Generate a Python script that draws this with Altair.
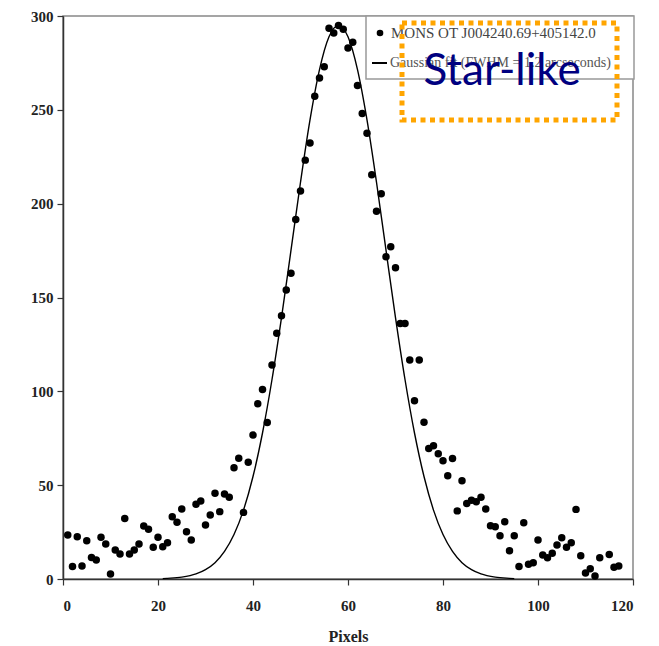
import altair as alt
import pandas as pd

# Measured profile (pixel index, counts)
pts_x = list(range(1, 114)) + [115, 116, 117]
pts_y = [23.4, 6.6, 22.5, 6.9, 20.4, 11.4, 10.1, 22.2, 18.6, 2.7,
         15.5, 13.3, 32.3, 13.3, 15.5, 18.6, 28.2, 26.5, 16.9, 22.2,
         17.2, 19.3, 33.2, 30.2, 37.3, 25.2, 20.8, 39.8, 41.6, 28.8,
         34.1, 45.7, 35.9, 45.3, 43.5, 59.3, 64.3, 35.5, 62.2, 76.7,
         93.4, 101.0, 83.4, 114.0, 131.0, 140.3, 154.0, 162.9, 191.6, 206.7,
         223.2, 232.3, 257.2, 267.0, 272.9, 293.5, 291.0, 295.0, 293.0, 283.0,
         286.0, 263.0, 248.0, 237.5, 215.4, 196.0, 205.3, 171.7, 177.1, 165.9,
         136.2, 136.2, 116.7, 95.0, 116.7, 83.5, 69.6, 71.0, 66.8, 63.0,
         55.0, 64.2, 36.3, 52.4, 40.2, 42.0, 41.2, 43.5, 37.3, 28.4,
         27.9, 23.1, 30.5, 15.1, 23.1, 6.6, 30.0, 7.8, 8.7, 20.8,
         12.8, 11.3, 13.7, 18.1, 22.0, 16.9, 19.3, 37.1, 12.4, 3.2,
         5.5, 1.6, 11.3, 13.0, 6.2, 6.9]

# Gaussian fit curve
fit_x = [21, 22, 25, 28, 30, 32, 34, 36, 38, 40, 42, 44, 46, 48, 50, 52, 54, 56, 58,
         60, 62, 64, 66, 68, 70, 72, 74, 76, 78, 80, 82, 84, 86, 88, 91, 94, 95]
fit_y = [0.2, 0.35, 1.0, 2.7, 5.0, 8.7, 14.7, 23.7, 36.7, 54.6, 77.8, 106.3, 139.3, 175.2,
         211.4, 244.6, 271.4, 288.9, 295.0, 288.9, 271.4, 244.6, 211.4, 175.2, 139.3,
         106.3, 77.8, 54.6, 36.7, 23.7, 14.7, 8.7, 5.0, 2.7, 1.0, 0.35, 0.2]

x_ticks = [0, 20, 40, 60, 80, 100, 120]
y_ticks = [0, 50, 100, 150, 200, 250, 300]

legend_label_1 = "MONS OT J004240.69+405142.0"
legend_label_2 = "Gaussian fit (FWHM = 1.2 arcseconds)"
stamp = "Star-like"

W, H = 570, 563
serif = "Liberation Serif"

xs = alt.Scale(domain=[0, 120], nice=False)
ys = alt.Scale(domain=[0, 300], nice=False)

x_axis = alt.Axis(values=x_ticks, title="Pixels", grid=False, labelFont=serif,
                  labelFontWeight="bold", labelFontSize=15, labelColor="#222",
                  tickSize=6, tickColor="#333", tickWidth=1.2, labelPadding=13,
                  domainColor="#333", domainWidth=1.5, titleFont=serif,
                  titleFontWeight="bold", titleFontSize=16, titleColor="#222",
                  titlePadding=15)
y_axis = alt.Axis(values=y_ticks, title=None, grid=False, labelFont=serif,
                  labelFontWeight="bold", labelFontSize=15, labelColor="#222",
                  tickSize=6, tickColor="#333", tickWidth=1.2, labelPadding=4,
                  domainColor="#333", domainWidth=1.5)

df_pts = pd.DataFrame({"x": pts_x, "y": pts_y})
df_fit = pd.DataFrame({"x": fit_x, "y": fit_y})
one = pd.DataFrame({"a": [0]})

fit = alt.Chart(df_fit).mark_line(color="black", strokeWidth=1.4, interpolate="monotone").encode(
    x=alt.X("x:Q", scale=xs, axis=x_axis),
    y=alt.Y("y:Q", scale=ys, axis=y_axis),
)
points = alt.Chart(df_pts).mark_circle(color="black", size=56, opacity=1).encode(
    x=alt.X("x:Q", scale=xs),
    y=alt.Y("y:Q", scale=ys),
)

leg_box = alt.Chart(one).mark_rect(fill="white", stroke="#999", strokeWidth=1.5).encode(
    x=alt.value(303), x2=alt.value(571), y=alt.value(0), y2=alt.value(63))
leg_dot = alt.Chart(one).mark_circle(color="black", size=44, opacity=1).encode(
    x=alt.value(317), y=alt.value(17))
leg_line = alt.Chart(one).mark_rule(color="black", strokeWidth=2).encode(
    x=alt.value(309), x2=alt.value(324), y=alt.value(47))
leg_t1 = alt.Chart(one).mark_text(align="left", baseline="middle", font=serif,
                                  fontSize=15, color="#444").encode(
    x=alt.value(328), y=alt.value(17), text=alt.value(legend_label_1))
leg_t2 = alt.Chart(one).mark_text(align="left", baseline="middle", font=serif,
                                  fontSize=14, color="#555").encode(
    x=alt.value(327), y=alt.value(47), text=alt.value(legend_label_2))
box = alt.Chart(one).mark_rect(fillOpacity=0, stroke="#FFA500", strokeWidth=5,
                               strokeDash=[5, 4.5]).encode(
    x=alt.value(339), x2=alt.value(554), y=alt.value(7), y2=alt.value(104))
star = alt.Chart(one).mark_text(align="center", baseline="alphabetic", font="Lato",
                                fontSize=44, color="#000080").encode(
    x=alt.value(439), y=alt.value(69), text=alt.value(stamp))

chart = alt.layer(fit, points, leg_box, leg_dot, leg_line, leg_t1, leg_t2, box, star).properties(
    width=W, height=H,
    autosize=alt.AutoSizeParams(type="none"),
    padding={"left": 55, "top": 8, "right": 15, "bottom": 64},
    background="white",
).configure_view(stroke="#888", strokeWidth=1.5)

chart.save("out.html", embed_options={"renderer": "svg", "actions": False})
